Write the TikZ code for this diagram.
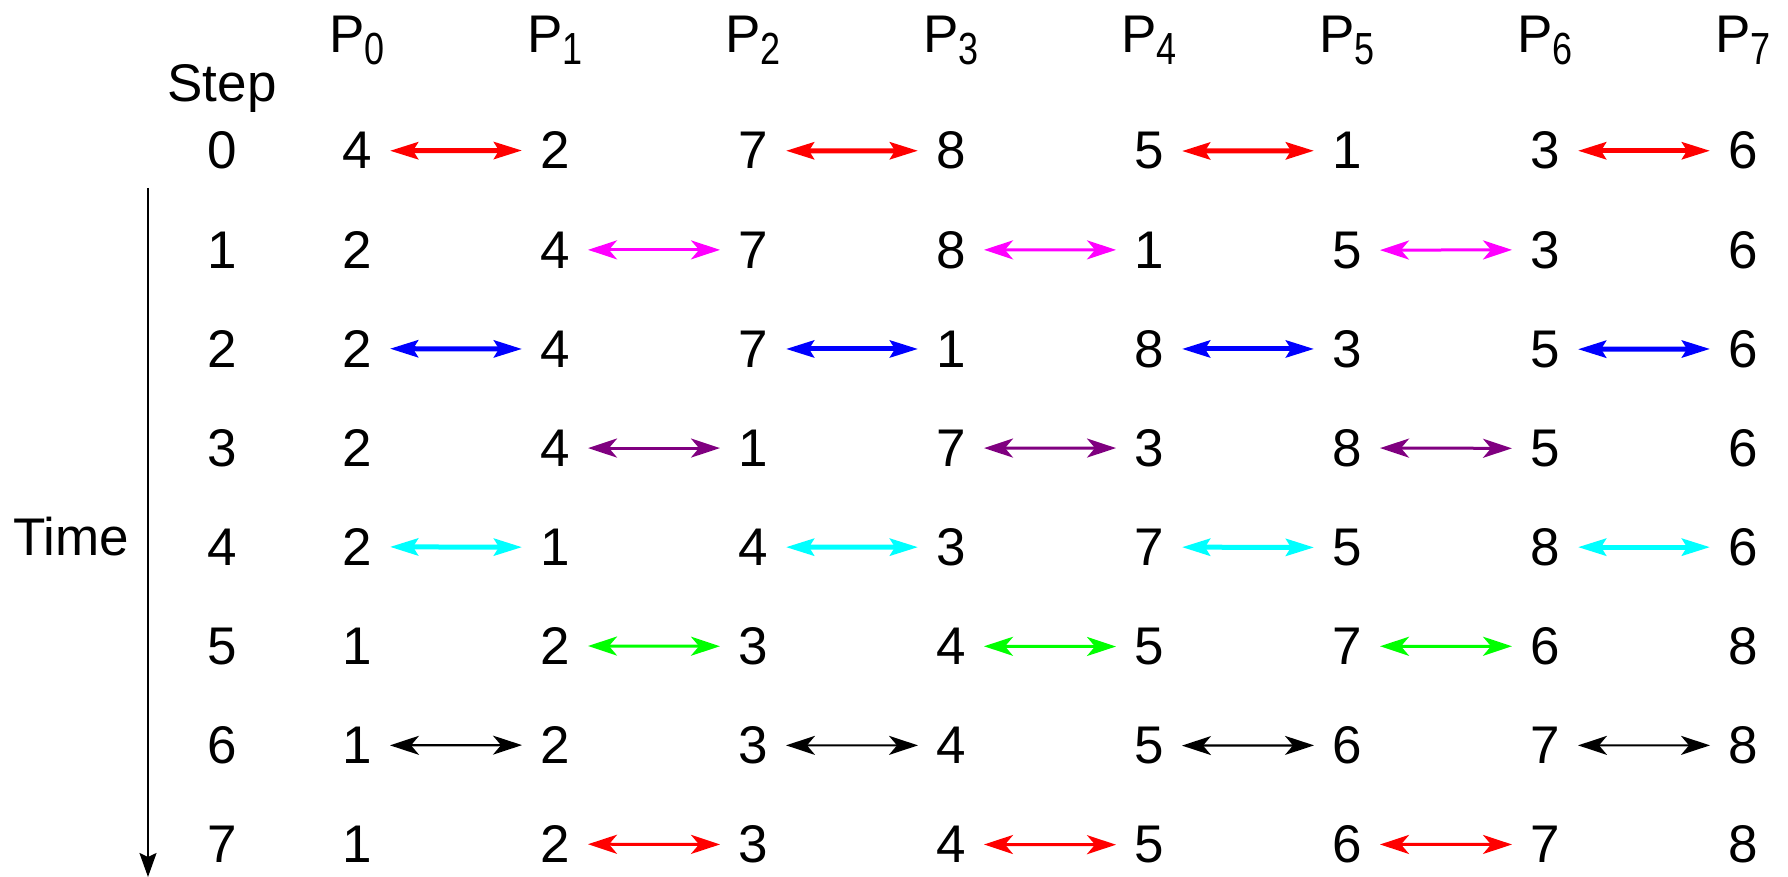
\documentclass[tikz,border=0pt]{standalone}
\usepackage{fontspec}
\setmainfont{Liberation Sans}
\newfontfamily\psubfont[FakeStretch=0.8]{Liberation Sans}
\usetikzlibrary{arrows.meta}
\definecolor{xmag}{RGB}{255,0,255}
\definecolor{xpur}{RGB}{128,0,128}
\definecolor{xcya}{RGB}{0,255,255}
\definecolor{xgre}{RGB}{0,255,0}
\definecolor{xblu}{RGB}{0,0,255}
\definecolor{xred}{RGB}{255,0,0}
\newcommand\subdig{\fontsize{45}{50}\selectfont\psubfont}
\tikzset{
  txt/.style={inner sep=0pt, outer sep=0pt, anchor=base, font=\fontsize{53}{60}\selectfont},
  num/.style={txt, minimum width=66pt},
  thickhead/.style={arrows={Stealth[length=28pt,width=17pt,inset=5pt]-Stealth[length=28pt,width=17pt,inset=5pt]}},
  thinhead/.style={arrows={Stealth[length=29pt,width=19pt,inset=8pt]-Stealth[length=29pt,width=19pt,inset=8pt]}},
  arA/.style={draw=xred, line width=5pt, thickhead},
  arB/.style={draw=xmag, line width=3pt, thinhead},
  arC/.style={draw=xblu, line width=5pt, thickhead},
  arD/.style={draw=xpur, line width=3pt, thinhead},
  arE/.style={draw=xcya, line width=5pt, thickhead},
  arF/.style={draw=xgre, line width=3pt, thinhead},
  arG/.style={draw=black, line width=2.2pt, thinhead},
  arH/.style={draw=xred, line width=3pt, thinhead},
  axisline/.style={draw=black, line width=2pt, -{Stealth[length=24pt,width=17pt,inset=4pt]}}
}
\begin{document}
\begin{tikzpicture}[x=1pt,y=-1pt]
\useasboundingbox (0,0) rectangle (1788,877);
% headers
\node[txt] (steplbl) at (222,102) {Step};
\foreach \j in {0,...,7} {
  \node[txt] (p\j) at ({357+198*\j},53) {P\raisebox{-12pt}{\subdig\j}};
}
% step numbers and values
\foreach \r/\vals in {0/{4,2,7,8,5,1,3,6},1/{2,4,7,8,1,5,3,6},2/{2,4,7,1,8,3,5,6},3/{2,4,1,7,3,8,5,6},4/{2,1,4,3,7,5,8,6},5/{1,2,3,4,5,7,6,8},6/{1,2,3,4,5,6,7,8},7/{1,2,3,4,5,6,7,8}} {
  \node[num] (s\r) at (222,{169+99.1*\r}) {\r};
  \foreach \v [count=\j from 0] in \vals {
    \node[num] (n\r-\j) at ({357+198*\j},{169+99.1*\r}) {\v};
  }
}
% exchanges
\foreach \r/\st/\starts in {0/arA/{0,2,4,6},1/arB/{1,3,5},2/arC/{0,2,4,6},3/arD/{1,3,5},4/arE/{0,2,4,6},5/arF/{1,3,5},6/arG/{0,2,4,6},7/arH/{1,3,5}} {
  \foreach \j in \starts {
    \pgfmathtruncatemacro\k{\j+1}
    \draw[\st] (n\r-\j.east) -- (n\r-\k.west);
  }
}
% time axis
\coordinate (axtop) at (148,188);
\coordinate (axbot) at (148,877);
\draw[axisline] (axtop) -- (axbot);
\node[txt] (timelbl) at (71,555) {Time};
\end{tikzpicture}
\end{document}
